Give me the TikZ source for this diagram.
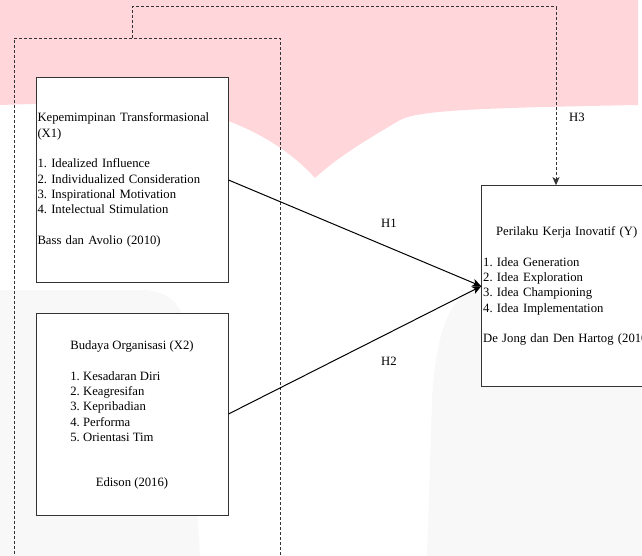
\documentclass[tikz,border=0pt]{standalone}
\usepackage{fontspec}
\setmainfont{Liberation Serif}
\frenchspacing
\usetikzlibrary{arrows.meta}
\definecolor{pinkbg}{RGB}{255,215,219}
\definecolor{greybg}{RGB}{248,248,248}
\definecolor{edge}{RGB}{51,51,51}
\begin{document}
\begin{tikzpicture}[x=1pt,y=-1pt,font=\fontsize{12.7}{15.3}\selectfont,
  varbox/.style={draw=edge,fill=white,line width=1pt,inner xsep=1.5pt,inner ysep=0pt},
  hyp/.style={draw=black,line width=1pt,-{Stealth[length=9pt,width=8pt,inset=2.5pt]}},
  grpline/.style={draw=edge,line width=1pt,dash pattern=on 3pt off 2pt}]
\useasboundingbox (0,0) rectangle (642,556);
\clip (0,0) rectangle (642,556);
% background shapes
\fill[pinkbg] (0,0) -- (638,0) -- (638,105) .. controls (480,108) and (420,110) .. (400,120) .. controls (370,138) and (340,155) .. (315,178) .. controls (290,150) and (250,125) .. (200,112) .. controls (150,100) and (60,103) .. (0,105) -- cycle;
\fill[greybg] (0,290) -- (140,290) .. controls (175,290) and (185,310) .. (187,340) -- (200,556) -- (0,556) -- cycle;
\fill[greybg] (427,556) -- (432,400) .. controls (436,330) and (450,295) .. (481,285) -- (642,285) -- (642,556) -- cycle;
% group of X1 and X2
\node[grpline,inner sep=0pt,minimum width=266.5pt,minimum height=560pt,anchor=north west] (grp) at (13.5,38) {};
% variables
\node[varbox,minimum width=192pt,minimum height=204pt,text width=189pt,align=left] (X1) at (132,180) {Kepemimpinan Transformasional\\(X1)\\[15.3pt]1. Idealized Influence\\2. Individualized Consideration\\3. Inspirational Motivation\\4. Intelectual Stimulation\\[15.3pt]Bass dan Avolio (2010)};
\node[varbox,minimum width=192pt,minimum height=202pt,align=center] (X2) at (132,414) {\begin{tabular}{@{}l@{}}Budaya Organisasi (X2)\\[15.3pt]1. Kesadaran Diri\\2. Keagresifan\\3. Kepribadian\\4. Performa\\5. Orientasi Tim\end{tabular}\\[30.6pt]Edison (2016)};
\node[varbox,minimum width=170pt,minimum height=201pt,text width=167pt,align=left] (Y) at (566.7,286.2) {\makebox[\linewidth]{Perilaku Kerja Inovatif (Y)}\\[15.3pt]1. Idea Generation\\2. Idea Exploration\\3. Idea Championing\\4. Idea Implementation\\[15.3pt]\mbox{De Jong dan Den Hartog (2010)}};
% hypotheses
\draw[hyp] (X1.east) -- (Y.west);
\draw[hyp] (X2.east) -- (Y.west);
\coordinate (h3in) at ([xshift=-10.7pt]Y.north);
\draw[grpline,-{Stealth[length=8pt,width=7pt,inset=2pt]}] ([xshift=118.5pt]grp.north west) |- (h3in |- 0,7) -- (h3in);
\node (h1) at (389,223) {H1};
\node (h2) at (389,361) {H2};
\node (h3) at (577,117) {H3};
\end{tikzpicture}
\end{document}
